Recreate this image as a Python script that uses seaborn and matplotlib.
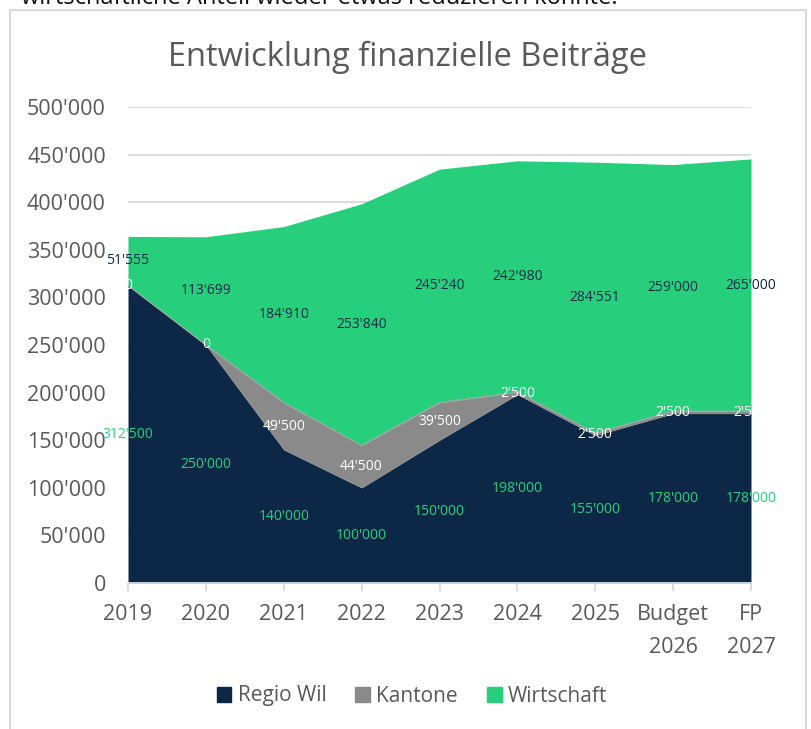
import matplotlib
matplotlib.use("Agg")
import matplotlib.pyplot as plt
import matplotlib.patches as mpatches
import seaborn as sns
import pandas as pd

# Daten
jahre = ["2019", "2020", "2021", "2022", "2023", "2024", "2025", "Budget\n2026", "FP\n2027"]
regio_wil = [312500, 250000, 140000, 100000, 150000, 198000, 155000, 178000, 178000]
kantone = [0, 0, 49500, 44500, 39500, 2500, 2500, 2500, 2500]
wirtschaft = [51555, 113699, 184910, 253840, 245240, 242980, 284551, 259000, 265000]

df = pd.DataFrame({"Jahr": jahre, "Regio Wil": regio_wil,
                   "Kantone": kantone, "Wirtschaft": wirtschaft})
df["x"] = range(len(df))

farben = {"Regio Wil": "#0C2846", "Kantone": "#8A8A8A", "Wirtschaft": "#27CF7D"}
label_farben = {"Regio Wil": "#27CF7D", "Kantone": "white", "Wirtschaft": "#0C2846"}
grau = "#595959"

sns.set_theme(style="white")
plt.rcParams["font.family"] = ["Open Sans", "DejaVu Sans"]


def fmt(v):
    return f"{int(v):,}".replace(",", "'")


fig = plt.figure(figsize=(8.11, 7.29), dpi=100)
ax = fig.add_axes([128 / 811, 1 - 583 / 729, (751 - 128) / 811, (583 - 107) / 729])

# Rahmen um das Diagramm
fig.patches.append(mpatches.Rectangle((10 / 811, -0.05), (806 - 10) / 811, 1.05 - 10 / 729,
                                      transform=fig.transFigure, fill=False,
                                      edgecolor="#D9D9D9", lw=1.5))
# abgeschnittener Text aus dem Dokument oben
fig.text(618 / 811, 1 - 4 / 729, "wirtschaftliche Anteil wieder etwas reduzieren konnte.",
         ha="right", va="baseline", fontsize=17, color="#111111")

# gestapelte Flächen
unten = pd.Series([0] * len(df))
for serie in ["Regio Wil", "Kantone", "Wirtschaft"]:
    oben = unten + df[serie]
    ax.fill_between(df["x"], unten, oben, color=farben[serie], lw=0)
    mitte = unten + df[serie] / 2
    for xi, m, v in zip(df["x"], mitte, df[serie]):
        ax.text(xi, m, fmt(v), ha="center", va="center", fontsize=10,
                color=label_farben[serie], clip_on=False)
    unten = oben

# dünne Linie an der Oberkante des Kantone-Bandes
grenze = df["Regio Wil"] + df["Kantone"]
sns.lineplot(x=df["x"], y=grenze, ax=ax, color="#A6A6A6", lw=0.8, legend=False)

ax.set_xlim(0, len(df) - 1)
ax.set_ylim(0, 500000)
ax.set_yticks(range(0, 500001, 50000))
ax.set_yticklabels([fmt(v) for v in range(0, 500001, 50000)], fontsize=15.5, color=grau)
ax.set_xticks(df["x"])
ax.set_xticklabels(jahre, fontsize=15.5, color=grau, linespacing=1.75)
ax.set_xlabel("")
ax.set_ylabel("")
ax.grid(axis="y", color="#D9D9D9", lw=1.3)
ax.set_axisbelow(True)
for s in ["top", "right", "left"]:
    ax.spines[s].set_visible(False)
ax.spines["bottom"].set_color("#D9D9D9")
ax.spines["bottom"].set_linewidth(1.3)
ax.tick_params(axis="x", bottom=True, length=6, width=1.3, color="#D9D9D9", pad=9)
ax.tick_params(axis="y", left=False, pad=10)

fig.text(408 / 811, 1 - 57 / 729, "Entwicklung finanzielle Beiträge", ha="center",
         va="center", fontsize=23.5, color=grau)

handles = [mpatches.Patch(color=farben[s], label=s) for s in ["Regio Wil", "Kantone", "Wirtschaft"]]
fig.legend(handles=handles, loc="center", bbox_to_anchor=(412 / 811, 1 - 696 / 729), ncol=3,
           frameon=False, fontsize=15, handlelength=0.7, handleheight=0.7,
           handletextpad=0.3, columnspacing=1.4, labelcolor=grau)

fig.savefig("out.png", dpi=100)
